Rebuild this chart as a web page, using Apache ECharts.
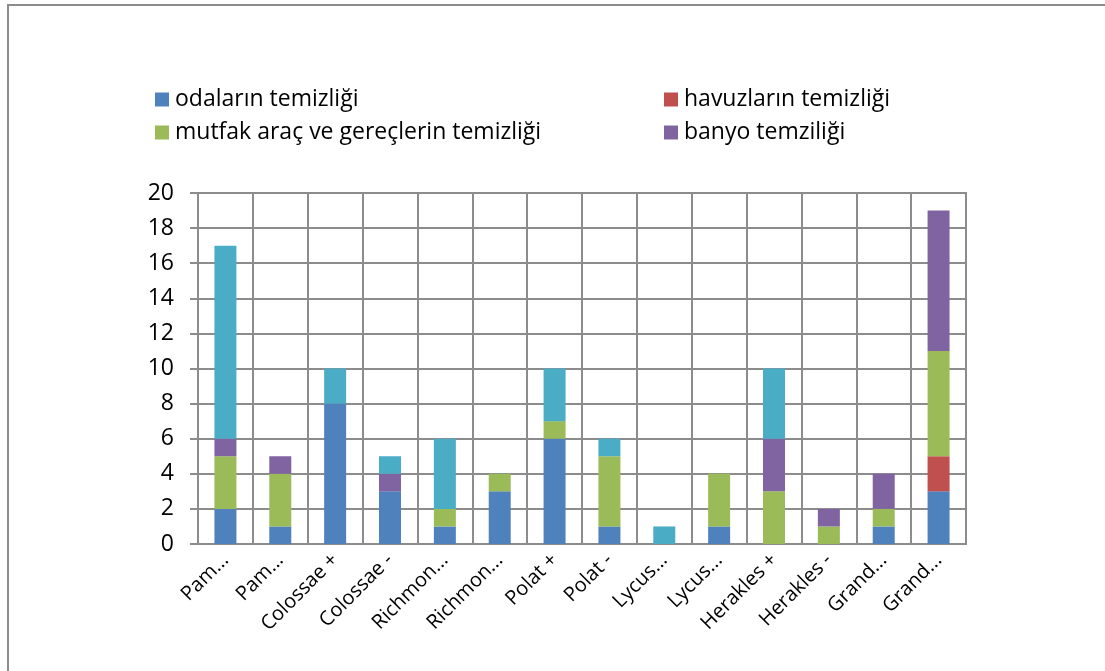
<!DOCTYPE html>
<html>
<head>
<meta charset="utf-8">
<script src="https://cdn.jsdelivr.net/npm/echarts@6/dist/echarts.min.js"></script>
<style>
  html, body { margin: 0; padding: 0; background: #fff; }
  #chart { width: 1105px; height: 671px; }
</style>
</head>
<body>
<div id="chart"></div>
<script>
var categories = ['Pam...', 'Pam...', 'Colossae +', 'Colossae -', 'Richmon...', 'Richmon...', 'Polat +', 'Polat -', 'Lycus...', 'Lycus...', 'Herakles +', 'Herakles -', 'Grand...', 'Grand...'];
var odalar   = [2, 1, 8, 3, 1, 3, 6, 1, 0, 1, 0, 0, 1, 3];
var havuzlar = [0, 0, 0, 0, 0, 0, 0, 0, 0, 0, 0, 0, 0, 2];
var mutfak   = [3, 3, 0, 0, 1, 1, 1, 4, 0, 3, 3, 1, 1, 6];
var banyo    = [1, 1, 0, 1, 0, 0, 0, 0, 0, 0, 3, 1, 2, 8];
var diger    = [11, 0, 2, 1, 4, 0, 3, 1, 1, 0, 4, 0, 0, 0];

var FONT = '"Open Sans", sans-serif';
var GRID_COLOR = '#8c8c8c';

var chart = echarts.init(document.getElementById('chart'));

function bar(name, data, color) {
  return {
    name: name,
    type: 'bar',
    stack: 'toplam',
    barWidth: 22,
    data: data,
    itemStyle: { color: color }
  };
}

function legendCol(items, left) {
  return {
    data: items,
    orient: 'vertical',
    left: left,
    top: 83,
    itemGap: 10,
    icon: 'rect',
    itemWidth: 14,
    itemHeight: 14,
    textStyle: { fontFamily: FONT, fontSize: 23, color: '#000', padding: [0, 0, 0, 1] }
  };
}

var option = {
  animation: false,
  textStyle: { fontFamily: FONT },
  graphic: [{
    type: 'rect',
    shape: { x: 8, y: 5, width: 1300, height: 900 },
    style: { fill: 'none', stroke: '#8c8c8c', lineWidth: 2 }
  }],
  legend: [
    legendCol(['odaların temizliği', 'mutfak araç ve gereçlerin temizliği'], 150),
    legendCol(['havuzların temizliği', 'banyo temziliği'], 659)
  ],
  grid: {
    left: 198,
    top: 193,
    width: 768,
    height: 351,
    show: true,
    borderColor: GRID_COLOR,
    borderWidth: 2
  },
  xAxis: {
    type: 'category',
    data: categories,
    axisLine: { lineStyle: { color: GRID_COLOR, width: 2 } },
    axisTick: { show: false },
    splitLine: { show: true, lineStyle: { color: GRID_COLOR, width: 2 } },
    axisLabel: {
      interval: 0,
      rotate: 45,
      margin: 13,
      fontSize: 20,
      fontFamily: FONT,
      color: '#000'
    }
  },
  yAxis: {
    type: 'value',
    min: 0,
    max: 20,
    interval: 2,
    axisLine: { show: true, lineStyle: { color: GRID_COLOR, width: 2 } },
    axisTick: { show: true, length: 8, lineStyle: { color: GRID_COLOR, width: 2 } },
    splitLine: { lineStyle: { color: GRID_COLOR, width: 2 } },
    axisLabel: {
      margin: 24,
      fontSize: 23,
      fontFamily: FONT,
      color: '#000'
    }
  },
  series: [
    bar('odaların temizliği', odalar, '#4f81bd'),
    bar('havuzların temizliği', havuzlar, '#c0504d'),
    bar('mutfak araç ve gereçlerin temizliği', mutfak, '#9bbb59'),
    bar('banyo temziliği', banyo, '#8064a2'),
    bar('diğer', diger, '#4bacc6')
  ]
};

chart.setOption(option);
</script>
</body>
</html>
